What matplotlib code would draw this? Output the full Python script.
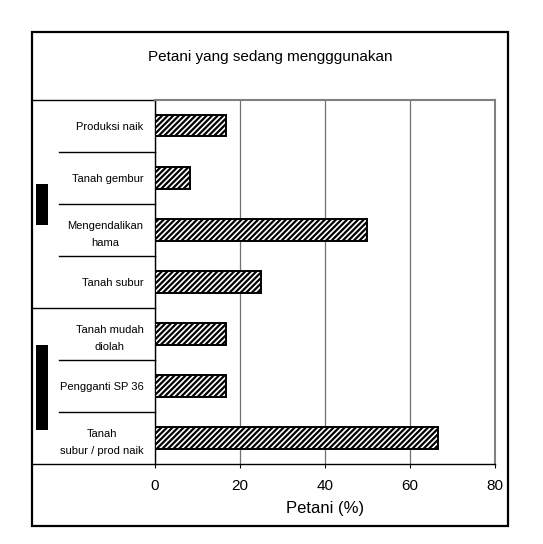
import numpy as np
import matplotlib.pyplot as plt
from matplotlib.patches import Rectangle
from matplotlib.transforms import blended_transform_factory

plt.rcParams['font.family'] = ['Liberation Sans', 'DejaVu Sans']
plt.rcParams['hatch.linewidth'] = 1.6

# data
categories = ['Produksi naik', 'Tanah gembur', 'Mengendalikan\nhama', 'Tanah subur',
              'Tanah mudah\ndiolah', 'Pengganti SP 36', 'Tanah\nsubur / prod naik']
values = [16.7, 8.3, 50.0, 25.0, 16.7, 16.7, 66.7]
group_sizes = [4, 3]
xticks = [0, 20, 40, 60, 80]
title = 'Petani yang sedang mengggunakan'
xlabel = 'Petani (%)'

W, H = 543, 544
fig = plt.figure(figsize=(W / 100, H / 100), dpi=100)

def fx(px):
    return px / W

def fy(py):
    return 1 - py / H

ax = fig.add_axes([fx(154.7), fy(464), fx(494.7) - fx(154.7), fy(99.5) - fy(464)])
y = np.arange(len(categories))
ax.barh(y, values, height=0.42, color='white', edgecolor='black', hatch='//////', linewidth=1.4, zorder=3)
ax.set_xlim(0, 80)
ax.set_ylim(len(categories) - 0.5, -0.5)
ax.set_xticks(xticks)
ax.set_xticklabels([str(t) for t in xticks], fontsize=11)
ax.tick_params(axis='x', direction='out', length=3, width=0.8, pad=8)
ax.set_yticks(y)
ax.set_yticklabels(categories, fontsize=8)
for lab in ax.get_yticklabels():
    lab.set_multialignment('center')
    lab.set_linespacing(1.9)
ax.tick_params(axis='y', length=0, pad=8)
ax.xaxis.grid(True, color='#707070', linewidth=0.9, zorder=0)
ax.set_axisbelow(True)
for s in ['top', 'right']:
    ax.spines[s].set_color('#808080')
    ax.spines[s].set_linewidth(1.5)
for s in ['left', 'bottom']:
    ax.spines[s].set_color('black')
    ax.spines[s].set_linewidth(1.0)

ax.set_xlabel(xlabel, fontsize=12)
ax.xaxis.set_label_coords(0.5, -(509 - 464) / 364.5)
ax.xaxis.label.set_va('center')

# category separators in the label area
tr = blended_transform_factory(fig.transFigure, ax.transData)
bounds = np.cumsum(group_sizes)
for i in range(len(categories) + 1):
    yy = i - 0.5
    if i == 0 or i in bounds:
        x0 = fx(32)
    else:
        x0 = fx(59)
    ax.plot([x0, fx(154.7)], [yy, yy], color='black', linewidth=1.0,
            transform=tr, clip_on=False)

# title
fig.text(fx(270), fy(57), title, ha='center', va='center', fontsize=11)

# outer frame
fig.add_artist(Rectangle((fx(32), fy(526)), fx(508) - fx(32), fy(32) - fy(526),
                         transform=fig.transFigure, fill=False, edgecolor='black', linewidth=1.6))

# dark blocks at the left (group labels)
for top, bot in [(184, 225), (345, 430)]:
    fig.add_artist(Rectangle((fx(36), fy(bot)), fx(48) - fx(36), fy(top) - fy(bot),
                             transform=fig.transFigure, facecolor='black', edgecolor='none'))

fig.savefig('out.png', dpi=100)
